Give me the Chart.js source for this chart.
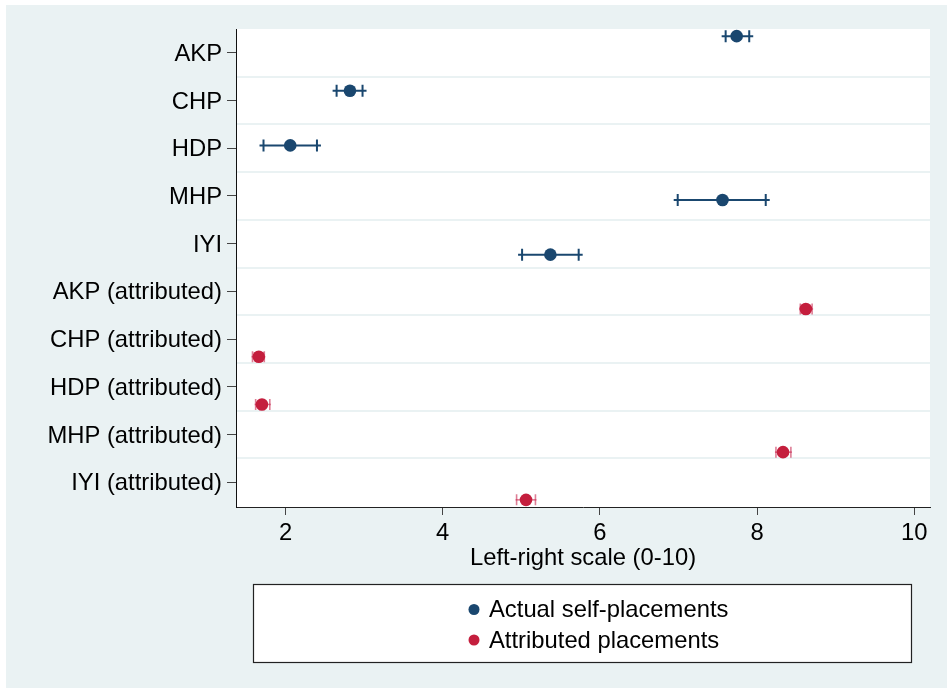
<!DOCTYPE html>
<html>
<head>
<meta charset="utf-8">
<script src="https://cdn.jsdelivr.net/npm/chart.js@4.4.1/dist/chart.umd.min.js"></script>
<style>
html,body{margin:0;padding:0;background:#fff;}
#c{display:block;}
</style>
</head>
<body>
<canvas id="c" width="947" height="691"></canvas>
<script>
// ---- data ----
const categories = ['AKP','CHP','HDP','MHP','IYI','AKP (attributed)','CHP (attributed)','HDP (attributed)','MHP (attributed)','IYI (attributed)'];
const xTicks = [2,4,6,8,10];
const selfMean = [7.74, 2.82, 2.06, 7.56, 5.37];
const selfLo   = [7.60, 2.65, 1.72, 6.99, 5.01];
const selfHi   = [7.90, 2.98, 2.40, 8.11, 5.73];
const attrMean = [8.62, 1.66, 1.70, 8.33, 5.06];
const attrLo   = [8.55, 1.58, 1.62, 8.24, 4.94];
const attrHi   = [8.70, 1.73, 1.80, 8.43, 5.18];
const seriesLabels = ['Actual self-placements','Attributed placements'];

// ---- styles ----
const BLUE = '#1A476F';
const RED = '#C41E3D';
const RED_CAP = 'rgba(200,40,80,0.6)';
const BG = '#EAF2F3';
const FONT = "'Liberation Sans', Arial, sans-serif";
const FS = 23.8;

// row placement (self-placements spread over first block, attributed offset within its rows)
const selfRow = i => -0.35 + i * 1.145;
const attrRow = i => 5 + i + 0.37;

const selfData = selfMean.map((v,i)=>({x:v, y:selfRow(i), lo:selfLo[i], hi:selfHi[i]}));
const attrData = attrMean.map((v,i)=>({x:v, y:attrRow(i), lo:attrLo[i], hi:attrHi[i]}));

const bgPlugin = {
  id:'bg',
  beforeDraw(chart){
    const {ctx, chartArea:a} = chart;
    ctx.save();
    ctx.fillStyle = '#fff';
    ctx.fillRect(0,0,chart.width,chart.height);
    ctx.fillStyle = BG;
    ctx.fillRect(6,5,chart.width-6,683);
    ctx.fillStyle = '#fff';
    ctx.fillRect(a.left,a.top,a.right-a.left,a.bottom-a.top);
    ctx.restore();
  },
  beforeDatasetsDraw(chart){
    const {ctx, chartArea:a, scales} = chart;
    const ys = scales.y, xs = scales.x;
    ctx.save();
    // horizontal separators between rows
    ctx.strokeStyle = BG;
    ctx.lineWidth = 2;
    for(let i=0;i<categories.length-1;i++){
      const y = Math.round(ys.getPixelForValue(i+0.5));
      ctx.beginPath(); ctx.moveTo(a.left+1,y); ctx.lineTo(a.right,y); ctx.stroke();
    }
    // error bars
    chart.data.datasets.forEach((ds,di)=>{
      const isSelf = di===0;
      ds.data.forEach(p=>{
        const y = ys.getPixelForValue(p.y);
        const xl = xs.getPixelForValue(p.lo), xh = xs.getPixelForValue(p.hi);
        ctx.strokeStyle = isSelf ? BLUE : RED_CAP;
        ctx.lineWidth = isSelf ? 2 : 1.6;
        const ext = isSelf ? 4 : 1;
        ctx.beginPath(); ctx.moveTo(xl-ext,y); ctx.lineTo(xh+ext,y); ctx.stroke();
        const h = isSelf ? 6 : 5.5;
        ctx.beginPath();
        ctx.moveTo(xl,y-h); ctx.lineTo(xl,y+h);
        ctx.moveTo(xh,y-h); ctx.lineTo(xh,y+h);
        ctx.stroke();
      });
    });
    ctx.restore();
  },
  afterDraw(chart){
    const {ctx} = chart;
    ctx.save();
    // legend box
    ctx.fillStyle = '#fff';
    ctx.fillRect(253.5,584.5,658,78);
    ctx.strokeStyle = '#222';
    ctx.lineWidth = 1.2;
    ctx.strokeRect(253.5,584.5,658,78);
    const cols = [BLUE, RED];
    const ys = [609.5, 640];
    ctx.font = FS + 'px ' + FONT;
    ctx.textBaseline = 'middle';
    ctx.textAlign = 'left';
    seriesLabels.forEach((t,i)=>{
      ctx.fillStyle = cols[i];
      ctx.beginPath(); ctx.arc(474, ys[i], 5.5, 0, Math.PI*2); ctx.fill();
      ctx.fillStyle = '#000';
      ctx.fillText(t, 489, ys[i]+1);
    });
    ctx.restore();
  }
};

new Chart(document.getElementById('c'), {
  type:'scatter',
  data:{
    datasets:[
      {label:seriesLabels[0], data:selfData, backgroundColor:BLUE, borderColor:BLUE, pointRadius:6.3, pointBorderWidth:0, pointHoverRadius:6.3},
      {label:seriesLabels[1], data:attrData, backgroundColor:RED, borderColor:RED, pointRadius:6.3, pointBorderWidth:0, pointHoverRadius:6.3}
    ]
  },
  plugins:[bgPlugin],
  options:{
    responsive:false,
    animation:false,
    events:[],
    layout:{padding:{left:0, top:29, right:17, bottom:118}},
    plugins:{legend:{display:false}, tooltip:{enabled:false}},
    scales:{
      x:{
        type:'linear', min:1.37, max:10.2,
        afterBuildTicks(s){ s.ticks = xTicks.map(v=>({value:v})); },
        afterFit(s){ s.height = 66; },
        grid:{drawOnChartArea:false, drawTicks:true, tickLength:8, color:'#444', lineWidth:1},
        border:{color:'#222', width:1},
        ticks:{font:{family:FONT, size:FS}, color:'#000', padding:4, maxRotation:0},
        title:{display:true, text:'Left-right scale (0-10)', font:{family:FONT, size:FS}, color:'#000', padding:{top:0,bottom:0}}
      },
      y:{
        type:'linear', min:-0.5, max:9.52, reverse:true,
        afterBuildTicks(s){ s.ticks = categories.map((c,i)=>({value:i})); },
        afterFit(s){ s.width = 236; },
        grid:{drawOnChartArea:false, drawTicks:true, tickLength:9, color:'#444', lineWidth:1},
        border:{color:'#111', width:1},
        ticks:{font:{family:FONT, size:FS}, color:'#000', padding:5, autoSkip:false, labelOffset:1.5,
          callback:(v)=>categories[v]}
      }
    }
  }
});
</script>
</body>
</html>
